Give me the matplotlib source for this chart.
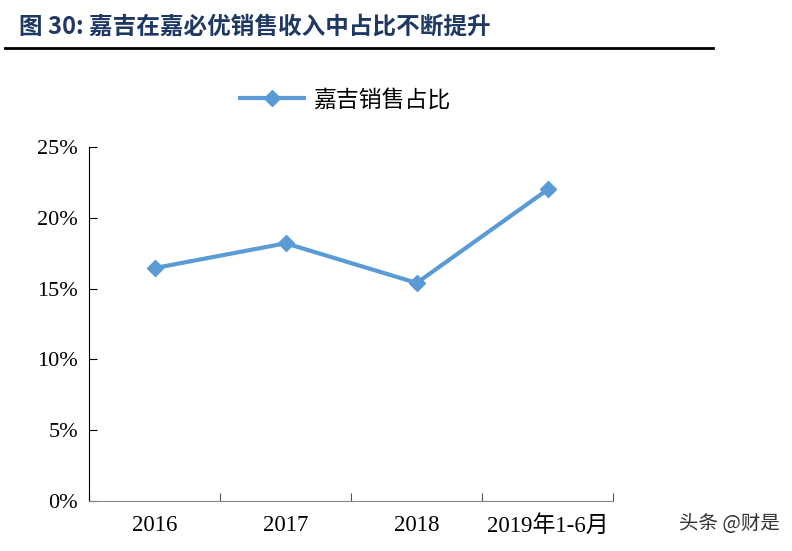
import matplotlib
matplotlib.use('Agg')
from matplotlib import pyplot as plt
from matplotlib.lines import Line2D

categories = ['2016', '2017', '2018', '2019年1-6月']
share = [16.45, 18.2, 15.4, 22.0]
yticks = [0, 5, 10, 15, 20, 25]
series_name = '嘉吉销售占比'
title = '图 30: 嘉吉在嘉必优销售收入中占比不断提升'

serif = ['Liberation Serif', 'Noto Sans CJK SC']
cjk = ['Noto Sans CJK SC', 'DejaVu Sans']

fig = plt.figure(figsize=(7.92, 5.51), dpi=100)
ax = fig.add_axes([0.1124, 0.0907, 0.662, 0.6425])

xs = [i + 0.5 for i in range(len(categories))]
ax.plot(xs, share, color='#5B9BD5', lw=3, marker='D', ms=8, label=series_name)

ax.set_xlim(0, len(categories))
ax.set_ylim(0, 25)
ax.set_yticks(yticks)
ax.set_yticklabels([f'{v}%' for v in yticks], family=serif, fontsize=16)
ax.set_xticks(range(len(categories) + 1))
ax.set_xticklabels([])
ax.set_xticks(xs, minor=True)
ax.set_xticklabels(categories, minor=True, family=serif, fontsize=16.5)
ax.tick_params(axis='x', which='minor', length=0, pad=10)
ax.tick_params(axis='x', which='major', direction='in', length=6, color='#555555')
ax.tick_params(axis='y', direction='in', length=6, pad=8)
for s in ['top', 'right']:
    ax.spines[s].set_visible(False)
ax.spines['bottom'].set_color('#888888')

leg = ax.legend(loc='center', bbox_to_anchor=(0.489, 1.133), frameon=False,
                prop={'family': cjk, 'size': 16.5}, handlelength=2.8,
                handletextpad=0.4)

fig.text(0.024, 0.951, title, family=cjk, fontsize=17, fontweight='bold',
         color='#1F3864', va='center')
fig.add_artist(Line2D([0.006, 0.9], [0.913, 0.913], color='black', lw=2))
fig.text(0.985, 0.05, '头条 @财是', family=cjk, fontsize=14, color='#333333',
         ha='right', va='center')

fig.savefig('out.png', dpi=100)
plt.close(fig)
